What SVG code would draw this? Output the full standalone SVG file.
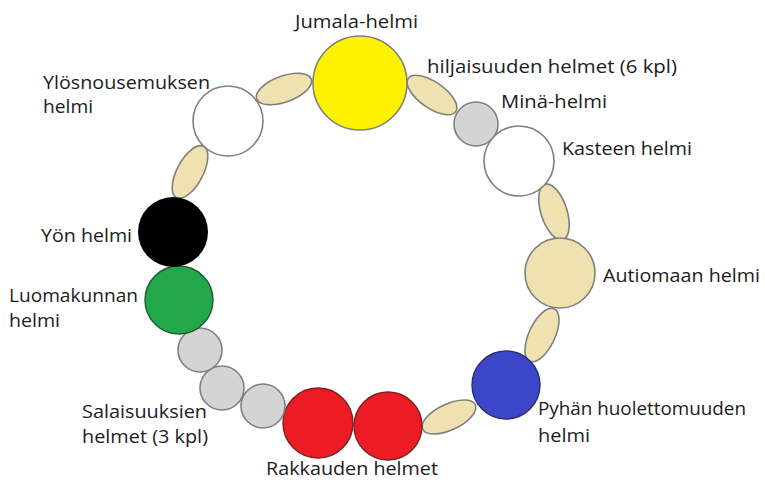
<svg xmlns="http://www.w3.org/2000/svg" width="765" height="482" viewBox="0 0 765 482">
<style>
.b{stroke:#7f7f7f;stroke-width:1.6}
.tan{fill:#EFE2B0}
.gr{fill:#D4D4D4}
.wh{fill:#FFFFFF}
text{font-family:"Open Sans","Noto Sans","Liberation Sans",sans-serif;font-size:18px;fill:#1c1c1c}
</style>
<rect width="765" height="482" fill="#fff"/>
<g id="connectors"></g>
<g id="silence1"><ellipse class="b tan" cx="284" cy="89" rx="29" ry="13" transform="rotate(-20 284 89)"/></g>
<g id="silence2"><ellipse class="b tan" cx="432" cy="95" rx="29" ry="13" transform="rotate(35 432 95)"/></g>
<g id="silence3"><ellipse class="b tan" cx="554" cy="212" rx="29" ry="13" transform="rotate(72 554 212)"/></g>
<g id="silence4"><ellipse class="b tan" cx="542" cy="335" rx="29" ry="13" transform="rotate(-65 542 335)"/></g>
<g id="silence5"><ellipse class="b tan" cx="449" cy="417" rx="29" ry="13" transform="rotate(-25 449 417)"/></g>
<g id="silence6"><ellipse class="b tan" cx="190" cy="172" rx="29" ry="13" transform="rotate(-62 190 172)"/></g>
<g id="jumala"><circle class="b" cx="360" cy="83" r="47" fill="#FFF200"/></g>
<g id="ylosnousemus"><circle class="b wh" cx="228" cy="121" r="35"/></g>
<g id="mina"><circle class="b gr" cx="476" cy="124" r="22"/></g>
<g id="kaste"><circle class="b wh" cx="519" cy="161" r="35"/></g>
<g id="autiomaa"><circle class="b tan" cx="560" cy="273" r="35" stroke="#6f6a55"/></g>
<g id="pyha"><circle cx="506" cy="385" r="34" fill="#3B47C8" stroke="#2a2f70" stroke-width="1.4"/></g>
<g id="rakkaus2"><circle cx="388" cy="426" r="34" fill="#ED1C24" stroke="#7a2020" stroke-width="1.4"/></g>
<g id="rakkaus1"><circle cx="318" cy="423" r="35" fill="#ED1C24" stroke="#7a2020" stroke-width="1.4"/></g>
<g id="salaisuus3"><circle class="b gr" cx="263" cy="406" r="22"/></g>
<g id="salaisuus2"><circle class="b gr" cx="222" cy="388" r="22"/></g>
<g id="salaisuus1"><circle class="b gr" cx="200" cy="350" r="22"/></g>
<g id="luomakunta"><circle cx="179" cy="300" r="34" fill="#22A84A" stroke="#1b5a2c" stroke-width="1.4"/></g>
<g id="yo"><circle cx="173" cy="232" r="35" fill="#000"/></g>
<g id="labels">
<text x="295" y="28" textLength="123" lengthAdjust="spacingAndGlyphs">Jumala-helmi</text>
<text x="427" y="73" textLength="250" lengthAdjust="spacingAndGlyphs">hiljaisuuden helmet (6 kpl)</text>
<text x="501" y="108" textLength="106" lengthAdjust="spacingAndGlyphs">Minä-helmi</text>
<text x="562" y="155" textLength="130" lengthAdjust="spacingAndGlyphs">Kasteen helmi</text>
<text x="43" y="89" textLength="167" lengthAdjust="spacingAndGlyphs">Ylösnousemuksen</text>
<text x="43" y="113" textLength="50" lengthAdjust="spacingAndGlyphs">helmi</text>
<text x="41" y="242" textLength="91" lengthAdjust="spacingAndGlyphs">Yön helmi</text>
<text x="9" y="302" textLength="129" lengthAdjust="spacingAndGlyphs">Luomakunnan</text>
<text x="9" y="327" textLength="51" lengthAdjust="spacingAndGlyphs">helmi</text>
<text x="603" y="282" textLength="157" lengthAdjust="spacingAndGlyphs">Autiomaan helmi</text>
<text x="82" y="418" textLength="125" lengthAdjust="spacingAndGlyphs">Salaisuuksien</text>
<text x="82" y="443" textLength="126" lengthAdjust="spacingAndGlyphs">helmet (3 kpl)</text>
<text x="538" y="415" textLength="208" lengthAdjust="spacingAndGlyphs">Pyhän huolettomuuden</text>
<text x="538" y="442" textLength="52" lengthAdjust="spacingAndGlyphs">helmi</text>
<text x="266" y="475" textLength="172" lengthAdjust="spacingAndGlyphs">Rakkauden helmet</text>
</g>
</svg>
